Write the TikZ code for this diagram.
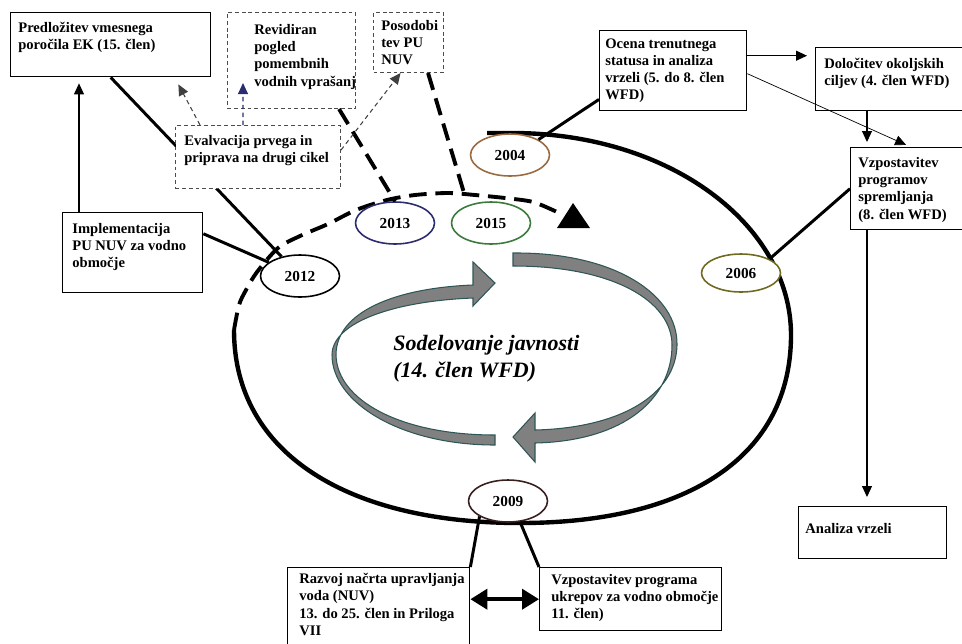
\documentclass[tikz,border=0pt]{standalone}
\usepackage{fontspec}
\setmainfont{Liberation Serif}
\usetikzlibrary{arrows.meta,positioning,shapes.geometric,backgrounds}

\definecolor{cBrown}{HTML}{9A6A40}
\definecolor{cNavy}{HTML}{2B2B70}
\definecolor{cGreen}{HTML}{3A7A3A}
\definecolor{cOlive}{HTML}{6F6A20}
\definecolor{cDark}{HTML}{3A1F1F}
\definecolor{cRibbon}{HTML}{808080}
\definecolor{cTeal}{HTML}{2F5656}

\tikzset{
  boxframe/.style={draw, line width=0.8pt, anchor=north west, inner sep=0pt},
  dboxframe/.style={boxframe, draw=black!70, line width=0.6pt, dash pattern=on 2.2pt off 1.6pt},
  txt/.style={anchor=north west, inner sep=0pt, align=left, font=\bfseries\fontsize{8.3}{9.8}\selectfont},
  year/.style={draw, ellipse, line width=0.9pt, fill=white, inner sep=0pt,
    minimum width=1.58cm, minimum height=0.84cm, font=\bfseries\fontsize{8.7}{10}\selectfont},
  link/.style={line width=1.7pt},
  dlink/.style={line width=2.2pt, dash pattern=on 10pt off 5pt},
  thinarrow/.style={->, line width=0.6pt},
  dthin/.style={thinarrow, draw=black!75, dash pattern=on 2.5pt off 2pt},
  ribbon/.style={fill=cRibbon, draw=cTeal, line width=0.6pt}
}

\begin{document}
\begin{tikzpicture}[x=0.02cm, y=-0.02cm, >={Triangle[length=0.22cm,width=0.2cm]}]
\useasboundingbox (0,0) rectangle (962,643);

% boxes
\node[boxframe, minimum width=4cm, minimum height=1.28cm] (predl) at (10,12) {};
\node[txt] (predlt) [below right=0.2cm and 0.16cm of predl.north west] {Predložitev vmesnega\\poročila EK (15. člen)};
\node[dboxframe, minimum width=2.56cm, minimum height=1.92cm] (revid) at (227,12) {};
\node[txt] (revidt) [below right=0.24cm and 0.54cm of revid.north west] {Revidiran\\pogled\\pomembnih\\vodnih vprašanj};
\node[dboxframe, minimum width=1.4cm, minimum height=1.2cm] (posod) at (373,12) {};
\node[txt] (posodt) [below right=0.16cm and 0.16cm of posod.north west] {Posodobi\\tev PU\\NUV};
\node[dboxframe, fill=white, minimum width=3.3cm, minimum height=1.26cm] (eval) at (175,125) {};
\node[txt] (evalt) [below right=0.2cm and 0.18cm of eval.north west] {Evalvacija prvega in\\priprava na drugi cikel};
\node[boxframe, minimum width=2.8cm, minimum height=1.6cm] (impl) at (62,212) {};
\node[txt] (implt) [below right=0.22cm and 0.2cm of impl.north west] {Implementacija\\PU NUV za vodno\\območje};
\node[boxframe, minimum width=2.94cm, minimum height=1.6cm] (ocena) at (599,30) {};
\node[txt] (ocenat) [below right=0.16cm and 0.12cm of ocena.north west] {Ocena trenutnega\\statusa in analiza\\vrzeli (5. do 8. člen\\WFD)};
\node[boxframe, minimum width=3.02cm, minimum height=1.26cm] (dolo) at (815,47) {};
\node[txt] (dolot) [below right=0.22cm and 0.18cm of dolo.north west] {Določitev okoljskih\\ciljev (4. člen WFD)};
\node[boxframe, minimum width=2.4cm, minimum height=1.64cm] (vzpsp) at (850,147) {};
\node[txt] (vzpspt) [below right=0.2cm and 0.16cm of vzpsp.north west] {Vzpostavitev\\programov\\spremljanja\\(8. člen WFD)};
\node[boxframe, minimum width=2.96cm, minimum height=1.04cm] (anal) at (798,506) {};
\node[txt] (analt) [below right=0.34cm and 0.14cm of anal.north west] {Analiza vrzeli};
\node[boxframe, minimum width=3.64cm, minimum height=1.7cm] (razvoj) at (287,567) {};
\node[txt] (razvojt) [below right=0.12cm and 0.24cm of razvoj.north west] {Razvoj načrta upravljanja\\voda (NUV)\\13. do 25. člen in Priloga\\VII};
\node[boxframe, minimum width=3.64cm, minimum height=1.26cm] (ukrep) at (539,567) {};
\node[txt] (ukrept) [below right=0.14cm and 0.24cm of ukrep.north west] {Vzpostavitev programa\\ukrepov za vodno območje\\11. člen)};

% years
\node[year, draw=cBrown] (y2004) at (510,155) {2004};
\node[year, draw=cNavy] (y2013) at (395,223) {2013};
\node[year, draw=cGreen] (y2015) at (491,223) {2015};
\node[year] (y2012) at (300,276) {2012};
\node[year, draw=cOlive, minimum height=0.76cm] (y2006) at (741,273) {2006};
\node[year, draw=cDark] (y2009) at (508,501) {2009};

% cycle
\begin{scope}[on background layer]
\draw[line width=2.5pt] (487,133) -- (512,133) .. controls (670,133) and (791,225) .. (791,335)
  .. controls (791,455) and (690,523) .. (520,523)
  .. controls (350,523) and (234,455) .. (234,330);
\draw[dlink] plot[smooth] coordinates {(234,330) (239,305) (246,290) (257,272) (278,248) (300,236) (328,224)
  (356,210) (387,200) (415,195) (448,193) (475,195) (505,198) (533,202) (557,212)};
\draw[link] (predl.south) -- (y2012);
\end{scope}
\fill (557,228) -- (573,203) -- (590,228) -- cycle;

% public participation
\filldraw[ribbon] (495,435) .. controls (400,435) and (337,400) .. (336,355)
  .. controls (336,312) and (395,288) .. (473,285) -- (473,262) -- (495,283) -- (473,306) -- (473,298)
  .. controls (395,301) and (332,322) .. (332,355)
  .. controls (332,402) and (400,445) .. (495,445) -- cycle;
\filldraw[ribbon] (513,253) .. controls (615,252) and (678,295) .. (677,345)
  .. controls (676,395) and (620,428) .. (535,430) -- (535,413) -- (513,437) -- (535,462) -- (535,443)
  .. controls (625,441) and (672,398) .. (672,345)
  .. controls (672,302) and (615,266) .. (513,266) -- cycle;
\node[anchor=north west, inner sep=0pt, align=left, font=\bfseries\itshape\fontsize{12.5}{15.3}\selectfont]
  (sodel) at (393,335) {Sodelovanje javnosti\\(14. člen WFD)};

% links
\draw[link] (impl.15) -- (y2012);
\draw[link] ([yshift=0.24cm]ocena.south west) -- (y2004.north east);
\draw[link] (vzpsp.west) -- (y2006.north east);
\draw[link] (y2009.south west) -- (razvoj.north east);
\draw[link] (y2009.-60) -- (ukrep.north west);
\draw[line width=2.2pt, {Triangle[length=0.34cm,width=0.4cm]}-{Triangle[length=0.34cm,width=0.4cm]}]
  (razvoj.east |- ukrep.east) -- (ukrep.west);
\draw[dlink] ([xshift=-0.34cm]revid.south east) -- (y2013.north);
\draw[dlink] ([xshift=-0.32cm]posod.south east) -- ([xshift=0.04cm,yshift=0.26cm]y2015.north west);

% arrows
\coordinate (i1) at ([xshift=0.34cm]impl.north west);
\draw[thinarrow, shorten >=0.12cm] (i1) -- (i1 |- predl.south);
\draw[dthin] ([xshift=0.5cm]eval.north west) -- ([xshift=-0.66cm,yshift=-0.14cm]predl.south east);
\draw[dthin, draw=cNavy] ([xshift=1.36cm]eval.north west) -- ([xshift=0.32cm,yshift=0.52cm]revid.south west);
\draw[dthin] ([yshift=0.14cm]eval.east) -- ([xshift=-0.16cm]posod.south);
\coordinate (o1) at ([yshift=0.3cm]ocena.east);
\draw[thinarrow, shorten >=0.16cm] (o1) -- (o1 -| dolo.west);
\draw[thinarrow, line width=0.4pt, shorten >=0.1cm] ([yshift=-0.06cm]ocena.east) -- (vzpsp.north);
\coordinate (d1) at ([xshift=1.04cm]dolo.south west);
\draw[thinarrow, shorten >=0.1cm] (d1) -- (d1 |- vzpsp.north);
\coordinate (v1) at ([xshift=0.34cm]vzpsp.south west);
\draw[thinarrow, shorten >=0.18cm] (v1) -- (v1 |- anal.north);
\end{tikzpicture}
\end{document}
